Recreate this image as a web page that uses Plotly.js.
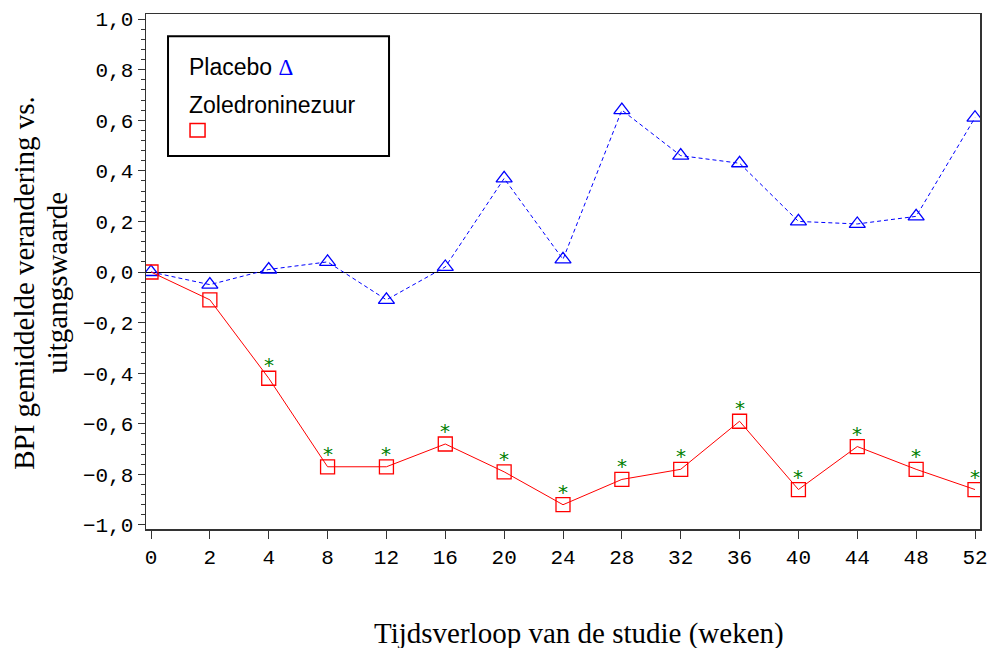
<!DOCTYPE html>
<html>
<head>
<meta charset="utf-8">
<script src="https://cdn.plot.ly/plotly-3.0.1.min.js"></script>
<style>html,body{margin:0;padding:0;background:#fff;}#chart{width:990px;height:648px;}</style>
</head>
<body>
<div id="chart"></div>
<script>
const weeks = ['0','2','4','8','12','16','20','24','28','32','36','40','44','48','52'];
const placebo = [0.00, -0.05, 0.01, 0.04, -0.11, 0.02, 0.37, 0.05, 0.64, 0.46, 0.43, 0.20, 0.19, 0.22, 0.61];
const zoledronic = [0.00, -0.11, -0.42, -0.77, -0.77, -0.68, -0.79, -0.92, -0.82, -0.78, -0.59, -0.86, -0.69, -0.78, -0.86];
const significance = ['', '', '*', '*', '*', '*', '*', '*', '*', '*', '*', '*', '*', '*', '*'];
const yTicks = [-1.0, -0.8, -0.6, -0.4, -0.2, 0.0, 0.2, 0.4, 0.6, 0.8, 1.0];

const tickFont = {family: 'Liberation Mono, DejaVu Sans Mono, monospace', size: 21, color: '#000'};
const serif = 'Liberation Serif, Times New Roman, serif';
const sans = 'Liberation Sans, Arial, sans-serif';

const traces = [
  {
    x: weeks, y: placebo, type: 'scatter', mode: 'lines+markers', name: 'Placebo',
    line: {color: '#0000FF', width: 1, dash: '4px,3px'},
    marker: {symbol: 'triangle-up-open', size: 14, color: '#0000FF', line: {width: 1.3, color: '#0000FF'}},
    showlegend: false, hoverinfo: 'x+y'
  },
  {
    x: weeks, y: zoledronic, type: 'scatter', mode: 'lines+markers', name: 'Zoledroninezuur',
    line: {color: '#FF0000', width: 1},
    marker: {symbol: 'square-open', size: 14, color: '#FF0000', line: {width: 1.3, color: '#FF0000'}},
    showlegend: false, hoverinfo: 'x+y'
  }
];

// significance stars placed above each Zoledroninezuur point (category index on x)
const starAnnotations = [];
weeks.forEach((w, i) => {
  if (significance[i]) {
    starAnnotations.push({
      x: i, y: zoledronic[i], xref: 'x', yref: 'y', yshift: 13,
      xanchor: 'center', yanchor: 'middle', showarrow: false,
      text: significance[i], font: {family: 'DejaVu Sans, sans-serif', size: 20, color: '#008000'}
    });
  }
});

const layout = {
  width: 990, height: 648,
  margin: {l: 146, r: 10, t: 14, b: 119},
  paper_bgcolor: '#fff', plot_bgcolor: '#fff',
  separators: ',.',
  showlegend: false,
  xaxis: {
    type: 'category', range: [-0.085, 14.085],
    showgrid: false, zeroline: false,
    showline: true, mirror: true, linecolor: '#333', linewidth: 1.5,
    ticks: 'outside', ticklen: 8, tickwidth: 1, tickcolor: '#333',
    tickfont: tickFont
  },
  yaxis: {
    range: [-1.016, 1.02],
    tickvals: yTicks, tickformat: '.1f',
    showgrid: false,
    zeroline: true, zerolinecolor: '#000', zerolinewidth: 1,
    showline: true, mirror: true, linecolor: '#333', linewidth: 1.5,
    ticks: 'outside', ticklen: 7, tickwidth: 1, tickcolor: '#333',
    minor: {dtick: 0.04, tick0: 0, ticks: 'outside', ticklen: 4, tickwidth: 1, tickcolor: '#333', showgrid: false},
    tickfont: tickFont
  },
  shapes: [
    {type: 'rect', xref: 'paper', yref: 'paper', x0: 0.0264, x1: 0.2914, y0: 0.7243, y1: 0.957,
     line: {color: '#000', width: 2}, fillcolor: 'rgba(0,0,0,0)'},
    {type: 'rect', xref: 'paper', yref: 'paper', x0: 0.0528, x1: 0.0708, y0: 0.761, y1: 0.7875,
     line: {color: '#FF0000', width: 1.5}, fillcolor: 'rgba(0,0,0,0)'}
  ],
  annotations: [
    {xref: 'paper', yref: 'paper', x: 0.049, y: 0.897, xanchor: 'left', yanchor: 'middle', showarrow: false,
     text: 'Placebo <span style="color:#0000FF;font-family:Liberation Serif">Δ</span>', font: {family: sans, size: 23, color: '#000'}},
    {xref: 'paper', yref: 'paper', x: 0.049, y: 0.824, xanchor: 'left', yanchor: 'middle', showarrow: false,
     text: 'Zoledroninezuur', font: {family: sans, size: 23, color: '#000'}},
    {xref: 'paper', yref: 'paper', x: -0.1463, y: 0.478, xanchor: 'center', yanchor: 'middle', showarrow: false,
     textangle: -90, text: 'BPI gemiddelde verandering vs.',
     font: {family: serif, size: 29, color: '#000'}},
    {xref: 'paper', yref: 'paper', x: -0.1067, y: 0.478, xanchor: 'center', yanchor: 'middle', showarrow: false,
     textangle: -90, text: 'uitgangswaarde',
     font: {family: serif, size: 29, color: '#000'}},
    {xref: 'paper', yref: 'paper', x: 0.519, y: -0.202, xanchor: 'center', yanchor: 'middle', showarrow: false,
     text: 'Tijdsverloop van de studie (weken)', font: {family: serif, size: 29, color: '#000'}}
  ].concat(starAnnotations)
};

Plotly.newPlot('chart', traces, layout, {displayModeBar: false, staticPlot: true});
</script>
</body>
</html>
